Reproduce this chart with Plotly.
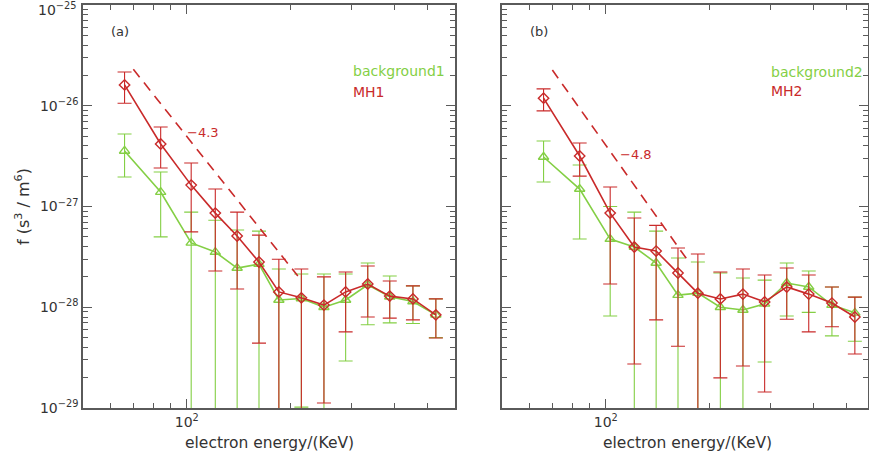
import math
import plotly.graph_objects as go

# ---------------- data ----------------
energy = [66, 84, 103, 121, 140, 162, 185, 215, 250, 289, 335, 388, 453, 528]

# panel (a)
bg1 = [3.56e-27, 1.39e-27, 4.35e-28, 3.53e-28, 2.45e-28, 2.68e-28, 1.18e-28,
       1.22e-28, 1.0e-28, 1.18e-28, 1.67e-28, 1.27e-28, 1.14e-28, 8.4e-29]
bg1_hi = [5.25e-27, 2.2e-27, 8.8e-28, 7.3e-28, 5.85e-28, 5.7e-28, 2.4e-28,
          2.14e-28, 2.14e-28, 2.14e-28, 2.75e-28, 2.04e-28, 1.63e-28, 1.21e-28]
bg1_lo = [1.96e-27, 5.0e-28, None, None, None, None, None,
          1.02e-29, None, 2.93e-29, 6.7e-29, 7.0e-29, 6.9e-29, 5.0e-29]

mh1 = [1.61e-26, 4.17e-27, 1.63e-27, 8.6e-28, 5.1e-28, 2.81e-28, 1.42e-28,
       1.24e-28, 1.05e-28, 1.42e-28, 1.70e-28, 1.29e-28, 1.21e-28, 8.4e-29]
mh1_hi = [2.16e-26, 6.15e-27, 2.7e-27, 1.49e-27, 8.8e-28, 5.2e-28, 3.0e-28,
          2.4e-28, 2.0e-28, 2.24e-28, 2.57e-28, 1.82e-28, 1.63e-28, 1.21e-28]
mh1_lo = [1.06e-26, 2.41e-27, 5.6e-28, 2.29e-28, 1.52e-28, 4.4e-29, None,
          None, 1.12e-29, 5.7e-29, 8.0e-29, 7.8e-29, 7.5e-29, 4.95e-29]

# panel (b)
bg2 = [3.1e-27, 1.49e-27, 4.75e-28, 3.96e-28, 2.75e-28, 1.32e-28, 1.38e-28,
       1.0e-28, 9.4e-29, 1.08e-28, 1.74e-28, 1.59e-28, 1.05e-28, 8.8e-29]
bg2_hi = [4.47e-27, 2.58e-27, 1.0e-27, 8.8e-28, 5.7e-28, 3.08e-28, 2.81e-28,
          2.19e-28, 1.95e-28, 1.86e-28, 2.75e-28, 2.29e-28, 1.59e-28, 1.26e-28]
bg2_lo = [1.75e-27, 4.75e-28, 8.2e-29, None, None, None, None,
          None, None, 2.86e-29, 8.2e-29, 8.9e-29, 5.2e-29, 4.6e-29]

mh2 = [1.19e-26, 3.17e-27, 8.6e-28, 3.96e-28, 3.61e-28, 2.19e-28, 1.38e-28,
       1.21e-28, 1.35e-28, 1.13e-28, 1.59e-28, 1.35e-28, 1.10e-28, 8.0e-29]
mh2_hi = [1.47e-26, 4.27e-27, 1.56e-27, 7.7e-28, 6.5e-28, 3.87e-28, 3.38e-28,
          2.24e-28, 2.4e-28, 2.09e-28, 2.45e-28, 2.09e-28, 1.59e-28, 1.26e-28]
mh2_lo = [8.9e-27, 2.0e-27, 1.70e-28, 2.73e-29, 7.5e-29, 4.1e-29, None,
          1.99e-29, 2.61e-29, 1.44e-29, 7.6e-29, 5.7e-29, 6.4e-29, 3.43e-29]

# power-law guide lines (end points)
fit1_e = [70, 210]
fit1_f = [2.3e-26, 2.04e-28]
fit2_e = [70, 175]
fit2_f = [2.26e-26, 2.75e-28]

x_major = [100]
x_major_text = ["10<sup>2</sup>"]
x_minor = [60, 70, 80, 90, 200, 300, 400, 500]
y_major = [1e-29, 1e-28, 1e-27, 1e-26, 1e-25]
y_major_text = ["10<sup>\u221229</sup>", "10<sup>\u221228</sup>", "10<sup>\u221227</sup>",
                "10<sup>\u221226</sup>", ""]
y_top_label = "10<sup>\u221225</sup>"
y_minor = [k * 10.0 ** e for e in range(-29, -25) for k in range(2, 10)]

# ---------------- styling ----------------
GREEN = "#84cf45"
RED = "#c92a2a"
AXC = "#5a5a5a"
TXT = "#333333"
FONT = "DejaVu Sans"
FLOOR = 1e-32  # lower end for unbounded error bars (off the axis)


def errs(y, hi, lo):
    plus = [h - v for v, h in zip(y, hi)]
    minus = [v - (l if l is not None else FLOOR) for v, l in zip(y, lo)]
    return plus, minus


fig = go.Figure()


def add_series(x, y, hi, lo, color, symbol, size, xa, ya):
    plus, minus = errs(y, hi, lo)
    fig.add_trace(go.Scatter(
        x=x, y=y, mode="lines+markers", xaxis=xa, yaxis=ya,
        line=dict(color=color, width=1.6),
        marker=dict(symbol=symbol, size=size, color=color,
                    line=dict(color=color, width=1.4)),
        error_y=dict(type="data", symmetric=False, array=plus, arrayminus=minus,
                     color=color, thickness=1.1, width=7),
        showlegend=False, hoverinfo="skip"))


add_series(energy, bg1, bg1_hi, bg1_lo, GREEN, "triangle-up-open", 9, "x", "y")
add_series(energy, mh1, mh1_hi, mh1_lo, RED, "diamond-open", 8, "x", "y")
add_series(energy, bg2, bg2_hi, bg2_lo, GREEN, "triangle-up-open", 9, "x2", "y2")
add_series(energy, mh2, mh2_hi, mh2_lo, RED, "diamond-open", 8, "x2", "y2")

for fe, ff, xa, ya in [(fit1_e, fit1_f, "x", "y"), (fit2_e, fit2_f, "x2", "y2")]:
    fig.add_trace(go.Scatter(x=fe, y=ff, mode="lines", xaxis=xa, yaxis=ya,
                             line=dict(color=RED, width=1.6, dash="10px,7px"),
                             showlegend=False, hoverinfo="skip"))

W, H = 869, 456
ML, MR, MT, MB = 83, 0, 5, 48
PW = W - ML - MR
PH = H - MT - MB
left_px = (83, 455)
right_px = (502, 868)
dA = [(left_px[0] - ML) / PW, (left_px[1] - ML) / PW]
dB = [(right_px[0] - ML) / PW, (right_px[1] - ML) / PW]
lo_log = math.log10(50)
ppd = (left_px[1] - left_px[0]) / (math.log10(600) - lo_log)
rangeA = [lo_log, math.log10(600)]
rangeB = [lo_log, lo_log + (right_px[1] - right_px[0]) / ppd]

common = dict(type="log", showgrid=False, zeroline=False, showline=True,
              linecolor=AXC, linewidth=1.5, mirror="ticks", ticks="inside",
              ticklen=9, tickwidth=1.2, tickcolor=AXC, automargin=False,
              ticklabeloverflow="allow",
              tickfont=dict(family=FONT, size=14, color=TXT))

xminor = dict(ticks="inside", ticklen=5, tickwidth=1, tickcolor=AXC,
              tickmode="array", tickvals=x_minor, showgrid=False)
yminor = dict(ticks="inside", ticklen=5, tickwidth=1, tickcolor=AXC,
              tickmode="array", tickvals=y_minor, showgrid=False)

fig.update_layout(
    width=W, height=H, margin=dict(l=ML, r=MR, t=MT, b=MB, autoexpand=False),
    paper_bgcolor="white", plot_bgcolor="white",
    xaxis=dict(common, domain=dA, range=rangeA, anchor="y",
               tickmode="array", tickvals=x_major, ticktext=x_major_text,
               minor=xminor),
    xaxis2=dict(common, domain=dB, range=rangeB, anchor="y2",
                tickmode="array", tickvals=x_major, ticktext=x_major_text,
                minor=xminor),
    yaxis=dict(common, domain=[0, 1], range=[-29, -25], anchor="x",
               tickmode="array", tickvals=y_major, ticktext=y_major_text,
               minor=yminor),
    yaxis2=dict(common, domain=[0, 1], range=[-29, -25], anchor="x2",
                tickmode="array", tickvals=y_major, ticktext=y_major_text,
                showticklabels=False, minor=yminor),
)


def px_x(x):
    return (x - ML) / PW


def px_y(y):
    return (H - MB - y) / PH


ann = [
    dict(text=y_top_label, x=px_x(78), y=px_y(9), xanchor="right", color=TXT, size=14),
    dict(text="(a)", x=px_x(110), y=px_y(32), xanchor="left", color=TXT, size=13),
    dict(text="(b)", x=px_x(529), y=px_y(32), xanchor="left", color=TXT, size=13),
    dict(text="background1", x=px_x(352), y=px_y(71), xanchor="left", color=GREEN, size=14),
    dict(text="MH1", x=px_x(352), y=px_y(92), xanchor="left", color=RED, size=14),
    dict(text="background2", x=px_x(770), y=px_y(72), xanchor="left", color=GREEN, size=14),
    dict(text="MH2", x=px_x(770), y=px_y(91), xanchor="left", color=RED, size=14),
    dict(text="\u22124.3", x=px_x(186), y=px_y(132), xanchor="left", color=RED, size=13),
    dict(text="\u22124.8", x=px_x(619), y=px_y(154), xanchor="left", color=RED, size=13),
    dict(text="electron energy/(KeV)", x=px_x(269), y=px_y(443), xanchor="center", color=TXT, size=15.5),
    dict(text="electron energy/(KeV)", x=px_x(687), y=px_y(443), xanchor="center", color=TXT, size=15.5),
]
for a in ann:
    fig.add_annotation(xref="paper", yref="paper", x=a["x"], y=a["y"],
                       text=a["text"], showarrow=False, xanchor=a["xanchor"],
                       yanchor="middle", borderpad=0,
                       font=dict(family=FONT, size=a["size"], color=a["color"]))

fig.add_annotation(xref="paper", yref="paper", x=px_x(22), y=px_y(207),
                   text="f (s<sup>3</sup> / m<sup>6</sup>)", showarrow=False,
                   textangle=-90, xanchor="center", yanchor="middle",
                   font=dict(family=FONT, size=16, color=TXT))

fig.write_html("out.html", config={"displayModeBar": False},
               post_script="document.body.style.margin='0';document.body.style.padding='0';")
